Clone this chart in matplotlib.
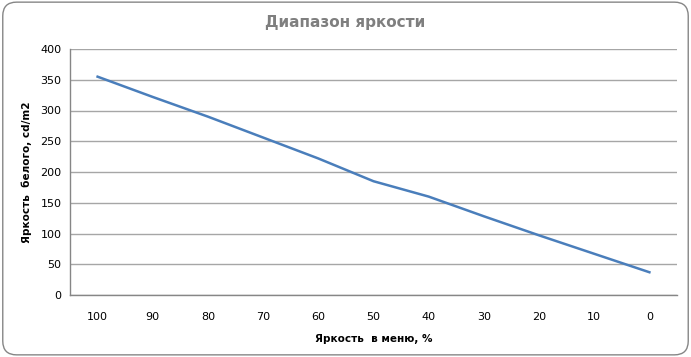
import matplotlib
matplotlib.use("Agg")
import matplotlib.pyplot as plt
from matplotlib.patches import FancyBboxPatch

# menu brightness setting, %
menu_levels = [100, 90, 80, 70, 60, 50, 40, 30, 20, 10, 0]
# measured white luminance, cd/m2
white_lum = [355, 322, 290, 256, 222, 185, 160, 128, 97, 67, 37]
y_ticks = [0, 50, 100, 150, 200, 250, 300, 350, 400]

plt.rcParams['font.family'] = ['DejaVu Sans']

fig = plt.figure(figsize=(6.91, 3.57), dpi=100)
ax = fig.add_axes([70 / 691, 1 - 295 / 357, 607 / 691, 246 / 357])

x = list(range(len(menu_levels)))
ax.plot(x, white_lum, color='#4a7ebb', linewidth=1.8, solid_joinstyle='round')

ax.set_xlim(-0.5, len(menu_levels) - 0.5)
ax.set_ylim(0, 400)
ax.set_yticks(y_ticks)
ax.set_xticks(x)
ax.set_xticklabels([str(v) for v in menu_levels])
ax.tick_params(axis='both', length=0, labelsize=8, colors='black')
ax.tick_params(axis='x', pad=12)
ax.tick_params(axis='y', pad=6)
ax.grid(axis='y', color='#a6a6a6', linewidth=1)
ax.set_axisbelow(True)
for side in ['top', 'right']:
    ax.spines[side].set_visible(False)
for side in ['left', 'bottom']:
    ax.spines[side].set_color('#868686')
    ax.spines[side].set_linewidth(1)

ax.set_xlabel('Яркость  в меню, %', fontsize=7.5, fontweight='bold', labelpad=9)
ax.set_ylabel('Яркость  белого, cd/m2', fontsize=7.5, fontweight='bold', labelpad=6)

fig.text(345 / 691, 1 - 22 / 357, 'Диапазон яркости', ha='center', va='center',
         fontsize=11, fontweight='bold', color='#7f7f7f')

# rounded chart frame like the Excel chart area
frame = FancyBboxPatch((0.004, 0.006), 0.992, 0.988, boxstyle='round,pad=0,rounding_size=0.02',
                       transform=fig.transFigure, facecolor='none', edgecolor='#868686',
                       linewidth=1, mutation_aspect=691 / 357)
fig.patches.append(frame)

fig.savefig('out.png', dpi=100)
